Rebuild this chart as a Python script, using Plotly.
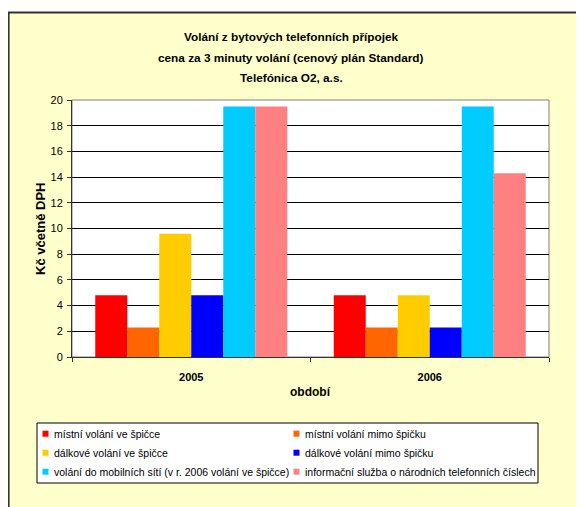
import plotly.graph_objects as go

categories = ["2005", "2006"]
series_names = [
    "místní volání ve špičce",
    "místní volání mimo špičku",
    "dálkové volání ve špičce",
    "dálkové volání mimo špičku",
    "volání do mobilních sítí (v r. 2006 volání ve špičce)",
    "informační služba o národních telefonních číslech",
]
series_values = [
    [4.8, 4.8],
    [2.3, 2.3],
    [9.6, 4.8],
    [4.8, 2.3],
    [19.5, 19.5],
    [19.5, 14.3],
]
series_colors = ["#FF0000", "#FF6600", "#FFCC00", "#0000FF", "#00CCFF", "#FF8080"]
y_ticks = [0, 2, 4, 6, 8, 10, 12, 14, 16, 18, 20]
title_lines = [
    "Volání z bytových telefonních přípojek",
    "cena za 3 minuty volání (cenový plán Standard)",
    "Telefónica O2, a.s.",
]
x_title = "období"
y_title = "Kč včetně DPH"

OFF = 8  # default page body margin
W, H = 584, 507
L, R, T, B = 72, 549, 100, 357  # page coordinates of the plot area
pw, ph = R - L, B - T

def px(x):
    return (x - L) / pw

def py(y):
    return (B - y) / ph

FONT = "Liberation Sans, Arial, sans-serif"

fig = go.Figure()
for name, vals, col in zip(series_names, series_values, series_colors):
    fig.add_trace(go.Bar(x=categories, y=vals, name=name, marker_color=col,
                         marker_line_width=0, showlegend=False))

shapes = []
annotations = []
# outer chart frame
shapes.append(dict(type="rect", xref="paper", yref="paper", x0=px(OFF + 0.6), x1=px(640),
                   y0=py(12.5), y1=py(580), fillcolor="#FFFFCC",
                   line=dict(color="#333333", width=2), layer="below"))
# plot area
shapes.append(dict(type="rect", xref="paper", yref="paper", x0=0, x1=1, y0=0, y1=1,
                   fillcolor="white", line=dict(color="#808080", width=1), layer="below"))

title_y = [37, 58, 78]
for t, yy in zip(title_lines, title_y):
    annotations.append(dict(text="<b>" + t + "</b>", xref="paper", yref="paper",
                            x=px(291), y=py(yy), showarrow=False, xanchor="center",
                            yanchor="middle", font=dict(family=FONT, size=11.8, color="black")))

annotations.append(dict(text="<b>" + x_title + "</b>", xref="paper", yref="paper",
                        x=px(310), y=py(392), showarrow=False, xanchor="center",
                        yanchor="middle", font=dict(family=FONT, size=12, color="black")))
annotations.append(dict(text="<b>" + y_title + "</b>", xref="paper", yref="paper",
                        x=px(40), y=py(229), showarrow=False, xanchor="center",
                        yanchor="middle", textangle=-90,
                        font=dict(family=FONT, size=13, color="black")))

# legend box
shapes.append(dict(type="rect", xref="paper", yref="paper", x0=px(37), x1=px(538),
                   y0=py(423), y1=py(483), fillcolor="white",
                   line=dict(color="black", width=1)))
col_x = [42.5, 293.5]
row_y = [433.7, 452.7, 471.7]
for i, (name, col) in enumerate(zip(series_names, series_colors)):
    cx = col_x[i % 2]
    ry = row_y[i // 2]
    shapes.append(dict(type="rect", xref="paper", yref="paper", x0=px(cx), x1=px(cx + 6),
                       y0=py(ry - 3), y1=py(ry + 3), fillcolor=col, line=dict(width=0)))
    annotations.append(dict(text=name, xref="paper", yref="paper", x=px(cx + 9),
                            y=py(ry), showarrow=False, xanchor="left", yanchor="middle",
                            font=dict(family=FONT, size=10.5, color="black")))

fig.update_layout(
    width=W, height=H,
    margin=dict(l=L - OFF, r=W - (R - OFF), t=T - OFF, b=H - (B - OFF), pad=0),
    paper_bgcolor="white",
    plot_bgcolor="rgba(0,0,0,0)",
    barmode="group", bargap=0.195, bargroupgap=0,
    shapes=shapes, annotations=annotations,
    showlegend=False,
    font=dict(family=FONT, size=11, color="black"),
)
fig.update_xaxes(type="category", showline=True, linecolor="#333333", linewidth=1,
                 ticks="outside", tickson="boundaries", ticklen=4, tickcolor="#333333",
                 tickfont=dict(family=FONT, size=11, color="black", weight="bold"),
                 ticklabelstandoff=10, showgrid=False, zeroline=False)
fig.update_yaxes(range=[0, 20], tickvals=y_ticks, showline=True, linecolor="#333333",
                 linewidth=1, ticks="outside", ticklen=4, tickcolor="#333333",
                 showgrid=True, gridcolor="black", gridwidth=1, zeroline=False,
                 tickfont=dict(family=FONT, size=11, color="black"), ticklabelstandoff=2)

fig.write_html("out.html")
